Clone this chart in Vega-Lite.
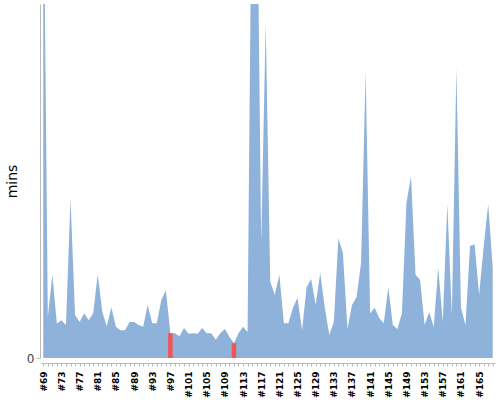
{
  "$schema": "https://vega.github.io/schema/vega-lite/v6.json",
  "autosize": "none",
  "padding": {"left": 41, "top": 4, "right": 5, "bottom": 42},
  "width": 454,
  "height": 354,
  "data": {
    "values": [
      {"build": "#69", "mins": 90, "status": "success"},
      {"build": "#70", "mins": 6.9, "status": "success"},
      {"build": "#71", "mins": 14.1, "status": "success"},
      {"build": "#72", "mins": 5.8, "status": "success"},
      {"build": "#73", "mins": 6.4, "status": "success"},
      {"build": "#74", "mins": 5.6, "status": "success"},
      {"build": "#75", "mins": 27.0, "status": "success"},
      {"build": "#76", "mins": 7.3, "status": "success"},
      {"build": "#77", "mins": 6.1, "status": "success"},
      {"build": "#78", "mins": 7.6, "status": "success"},
      {"build": "#79", "mins": 6.4, "status": "success"},
      {"build": "#80", "mins": 7.6, "status": "success"},
      {"build": "#81", "mins": 14.2, "status": "success"},
      {"build": "#82", "mins": 7.8, "status": "success"},
      {"build": "#83", "mins": 5.4, "status": "success"},
      {"build": "#84", "mins": 8.6, "status": "success"},
      {"build": "#85", "mins": 5.3, "status": "success"},
      {"build": "#86", "mins": 4.7, "status": "success"},
      {"build": "#87", "mins": 4.7, "status": "success"},
      {"build": "#88", "mins": 6.1, "status": "success"},
      {"build": "#89", "mins": 6.1, "status": "success"},
      {"build": "#90", "mins": 5.6, "status": "success"},
      {"build": "#91", "mins": 5.3, "status": "success"},
      {"build": "#92", "mins": 9.0, "status": "success"},
      {"build": "#93", "mins": 5.9, "status": "success"},
      {"build": "#94", "mins": 5.9, "status": "success"},
      {"build": "#95", "mins": 9.8, "status": "success"},
      {"build": "#96", "mins": 11.5, "status": "success"},
      {"build": "#97", "mins": 4.2, "status": "failed"},
      {"build": "#98", "mins": 4.2, "status": "success"},
      {"build": "#99", "mins": 3.7, "status": "success"},
      {"build": "#100", "mins": 5.1, "status": "success"},
      {"build": "#101", "mins": 4.1, "status": "success"},
      {"build": "#102", "mins": 4.2, "status": "success"},
      {"build": "#103", "mins": 4.1, "status": "success"},
      {"build": "#104", "mins": 5.1, "status": "success"},
      {"build": "#105", "mins": 4.2, "status": "success"},
      {"build": "#106", "mins": 4.2, "status": "success"},
      {"build": "#107", "mins": 3.1, "status": "success"},
      {"build": "#108", "mins": 4.2, "status": "success"},
      {"build": "#109", "mins": 4.9, "status": "success"},
      {"build": "#110", "mins": 3.6, "status": "success"},
      {"build": "#111", "mins": 2.5, "status": "failed"},
      {"build": "#112", "mins": 4.2, "status": "success"},
      {"build": "#113", "mins": 5.3, "status": "success"},
      {"build": "#114", "mins": 4.4, "status": "success"},
      {"build": "#115", "mins": 90, "status": "success"},
      {"build": "#116", "mins": 90, "status": "success"},
      {"build": "#117", "mins": 19.5, "status": "success"},
      {"build": "#118", "mins": 56.8, "status": "success"},
      {"build": "#119", "mins": 12.9, "status": "success"},
      {"build": "#120", "mins": 10.7, "status": "success"},
      {"build": "#121", "mins": 14.1, "status": "success"},
      {"build": "#122", "mins": 5.9, "status": "success"},
      {"build": "#123", "mins": 5.9, "status": "success"},
      {"build": "#124", "mins": 8.5, "status": "success"},
      {"build": "#125", "mins": 10.2, "status": "success"},
      {"build": "#126", "mins": 4.7, "status": "success"},
      {"build": "#127", "mins": 12.0, "status": "success"},
      {"build": "#128", "mins": 13.4, "status": "success"},
      {"build": "#129", "mins": 9.0, "status": "success"},
      {"build": "#130", "mins": 14.4, "status": "success"},
      {"build": "#131", "mins": 8.6, "status": "success"},
      {"build": "#132", "mins": 3.9, "status": "success"},
      {"build": "#133", "mins": 6.1, "status": "success"},
      {"build": "#134", "mins": 20.3, "status": "success"},
      {"build": "#135", "mins": 17.8, "status": "success"},
      {"build": "#136", "mins": 4.9, "status": "success"},
      {"build": "#137", "mins": 9.0, "status": "success"},
      {"build": "#138", "mins": 10.3, "status": "success"},
      {"build": "#139", "mins": 16.1, "status": "success"},
      {"build": "#140", "mins": 48.5, "status": "success"},
      {"build": "#141", "mins": 7.6, "status": "success"},
      {"build": "#142", "mins": 8.5, "status": "success"},
      {"build": "#143", "mins": 6.8, "status": "success"},
      {"build": "#144", "mins": 5.9, "status": "success"},
      {"build": "#145", "mins": 12.0, "status": "success"},
      {"build": "#146", "mins": 5.6, "status": "success"},
      {"build": "#147", "mins": 4.9, "status": "success"},
      {"build": "#148", "mins": 7.6, "status": "success"},
      {"build": "#149", "mins": 26.3, "status": "success"},
      {"build": "#150", "mins": 30.8, "status": "success"},
      {"build": "#151", "mins": 14.1, "status": "success"},
      {"build": "#152", "mins": 13.2, "status": "success"},
      {"build": "#153", "mins": 5.6, "status": "success"},
      {"build": "#154", "mins": 7.8, "status": "success"},
      {"build": "#155", "mins": 5.3, "status": "success"},
      {"build": "#156", "mins": 15.3, "status": "success"},
      {"build": "#157", "mins": 6.1, "status": "success"},
      {"build": "#158", "mins": 26.1, "status": "success"},
      {"build": "#159", "mins": 7.3, "status": "success"},
      {"build": "#160", "mins": 49.2, "status": "success"},
      {"build": "#161", "mins": 8.5, "status": "success"},
      {"build": "#162", "mins": 5.6, "status": "success"},
      {"build": "#163", "mins": 19.0, "status": "success"},
      {"build": "#164", "mins": 19.3, "status": "success"},
      {"build": "#165", "mins": 10.7, "status": "success"},
      {"build": "#166", "mins": 18.8, "status": "success"},
      {"build": "#167", "mins": 26.1, "status": "success"},
      {"build": "#168", "mins": 15.4, "status": "success"}
    ]
  },
  "encoding": {
    "x": {
      "field": "build",
      "type": "ordinal",
      "sort": null,
      "scale": {"type": "point", "padding": 0.5},
      "title": null,
      "axis": {
        "labelAngle": -90,
        "labelOverlap": "parity",
        "labelSeparation": 3,
        "labelFontSize": 9,
        "labelFontWeight": "bold",
        "labelColor": "#000",
        "labelPadding": 5,
        "tickSize": 3,
        "tickColor": "#bbb",
        "domainColor": "#bbb",
        "offset": 5
      }
    },
    "y": {
      "field": "mins",
      "type": "quantitative",
      "scale": {"domain": [0, 60]},
      "title": "mins",
      "axis": {
        "values": [0],
        "grid": false,
        "labelFontSize": 12,
        "labelColor": "#444",
        "tickColor": "#bbb",
        "tickSize": 4,
        "domainColor": "#bbb",
        "offset": 1,
        "titleFontSize": 14,
        "titleFontWeight": "normal",
        "titleColor": "#000",
        "titleX": -28,
        "titleBaseline": "middle"
      }
    }
  },
  "layer": [
    {
      "mark": {"type": "area", "color": "#8fb2db", "clip": true, "opacity": 1}
    },
    {
      "transform": [{"filter": "datum.status === 'failed'"}],
      "mark": {"type": "bar", "color": "#f25353", "size": 4.5, "clip": true}
    }
  ],
  "config": {
    "font": "DejaVu Sans",
    "view": {"stroke": null}
  }
}
